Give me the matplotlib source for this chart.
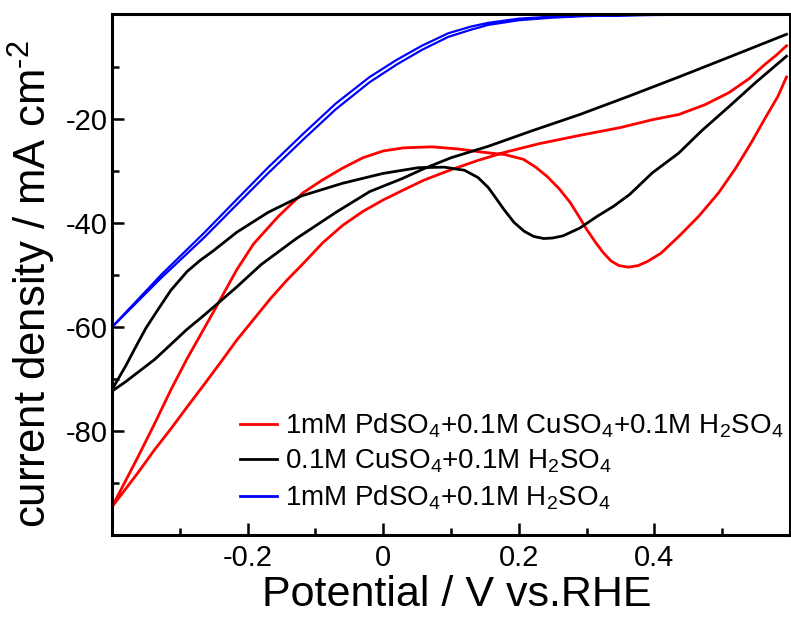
import matplotlib
matplotlib.use('Agg')
import matplotlib.pyplot as plt
from matplotlib.ticker import FixedLocator

plt.rcParams['font.family'] = ['Liberation Sans', 'DejaVu Sans']
plt.rcParams['mathtext.fontset'] = 'custom'
plt.rcParams['mathtext.rm'] = 'Liberation Sans'
plt.rcParams['mathtext.it'] = 'Liberation Sans:italic'
plt.rcParams['mathtext.bf'] = 'Liberation Sans:bold'

# 1mM PdSO4 + 0.1M CuSO4 + 0.1M H2SO4 (red), two sweep branches
red_x_down = [0.595, 0.582, 0.563, 0.543, 0.52, 0.495, 0.465, 0.436, 0.41, 0.39,
              0.376, 0.362, 0.348, 0.336, 0.324, 0.312, 0.30, 0.288, 0.276, 0.26,
              0.242, 0.225, 0.207, 0.18, 0.145, 0.11, 0.072, 0.03, 0.0, -0.03,
              -0.06, -0.09, -0.118, -0.155, -0.191, -0.216, -0.25, -0.289, -0.313,
              -0.337, -0.362, -0.38, -0.4]
red_y_down = [-12.0, -15.8, -20.0, -24.6, -29.5, -34.2, -38.8, -42.6, -45.8, -47.4,
              -48.2, -48.5, -48.2, -47.3, -45.6, -43.5, -41.2, -38.6, -36.1, -33.5,
              -31.1, -29.3, -27.8, -26.9, -26.4, -25.8, -25.4, -25.6, -26.2, -27.5,
              -29.5, -31.8, -34.2, -38.8, -44.0, -49.0, -57.0, -66.0, -72.0,
              -78.5, -85.0, -89.5, -94.5]
red_x_up = [-0.4, -0.362, -0.337, -0.313, -0.289, -0.264, -0.24, -0.216, -0.191, -0.166,
            -0.142, -0.118, -0.089, -0.06, -0.03, 0.0, 0.028, 0.06, 0.10, 0.14,
            0.178, 0.23, 0.29, 0.35, 0.397, 0.436, 0.475, 0.51, 0.54, 0.563, 0.58, 0.595]
red_y_up = [-94.5, -88.0, -83.5, -79.5, -75.3, -71.0, -66.8, -62.5, -58.5, -54.5,
            -51.0, -47.8, -43.8, -40.5, -37.8, -35.6, -33.8, -31.8, -29.8, -28.0,
            -26.5, -24.8, -23.2, -21.7, -20.2, -19.2, -17.3, -15.0, -12.3, -9.6, -7.8, -6.0]

# 0.1M CuSO4 + 0.1M H2SO4 (black)
blk_x_down = [0.595, 0.55, 0.51, 0.47, 0.436, 0.397, 0.364, 0.34, 0.315, 0.29,
              0.265, 0.25, 0.237, 0.222, 0.208, 0.193, 0.178, 0.165, 0.155, 0.14,
              0.12, 0.09, 0.052, 0.0, -0.06, -0.12, -0.17, -0.216, -0.25, -0.27,
              -0.289, -0.313, -0.333, -0.35, -0.365, -0.38, -0.4]
blk_y_down = [-8.0, -13.0, -17.7, -22.3, -26.6, -30.4, -34.5, -36.8, -38.8, -41.0,
              -42.5, -42.9, -43.0, -42.6, -41.6, -39.9, -37.4, -35.0, -33.2, -31.3,
              -29.9, -29.3, -29.4, -30.5, -32.4, -34.8, -38.0, -41.8, -45.3, -47.2,
              -49.3, -52.9, -56.8, -60.2, -63.8, -67.5, -72.0]
blk_x_up = [-0.4, -0.38, -0.36, -0.337, -0.313, -0.29, -0.264, -0.24, -0.216, -0.18,
            -0.128, -0.07, -0.02, 0.028, 0.06, 0.10, 0.155, 0.22, 0.29, 0.36,
            0.436, 0.51, 0.595]
blk_y_up = [-72.3, -70.5, -68.5, -66.2, -63.3, -60.5, -57.7, -55.0, -52.3, -48.0,
            -43.0, -38.0, -34.0, -31.5, -29.6, -27.5, -25.3, -22.3, -19.2, -15.8,
            -12.0, -8.2, -3.8]

# 1mM PdSO4 + 0.1M H2SO4 (blue), two nearly overlapping sweeps
blue_x = [-0.4, -0.327, -0.264, -0.216, -0.17, -0.118, -0.07, -0.02, 0.02, 0.057,
          0.096, 0.13, 0.155, 0.2, 0.25, 0.3, 0.4, 0.5, 0.595]
blue_y_down = [-60.0, -50.5, -42.8, -36.5, -30.5, -24.0, -18.2, -13.0, -9.6, -6.8,
               -4.3, -2.9, -2.0, -1.1, -0.6, -0.3, -0.1, 0.0, 0.0]
blue_y_up = [-60.0, -49.9, -41.9, -35.5, -29.4, -22.9, -17.1, -12.0, -8.7, -6.0,
             -3.6, -2.3, -1.6, -0.8, -0.4, -0.2, -0.05, 0.0, 0.0]

labels = [r'1mM PdSO$_4$+0.1M CuSO$_4$+0.1M H$_2$SO$_4$',
          r'0.1M CuSO$_4$+0.1M H$_2$SO$_4$',
          r'1mM PdSO$_4$+0.1M H$_2$SO$_4$']
colors = ['#ff0000', '#000000', '#0000ff']

x_ticks = [-0.2, 0, 0.2, 0.4]
x_ticklabels = ['-0.2', '0', '0.2', '0.4']
x_minor = [-0.3, -0.1, 0.1, 0.3, 0.5]
y_ticks = [-80, -60, -40, -20]
y_ticklabels = ['-80', '-60', '-40', '-20']
y_minor = [-90, -70, -50, -30, -10]

fig = plt.figure(figsize=(7.91, 6.17), dpi=100)
ax = fig.add_axes([0.1416, 0.1321, 0.857, 0.8444])

lw = 2.0
ax.plot(red_x_down + red_x_up, red_y_down + red_y_up, color=colors[0], lw=lw, label=labels[0])
ax.plot(blk_x_down + blk_x_up, blk_y_down + blk_y_up, color=colors[1], lw=lw, label=labels[1])
ax.plot(blue_x + blue_x[::-1], blue_y_down + blue_y_up[::-1], color=colors[2], lw=1.6, label=labels[2])

ax.set_xlim(-0.4, 0.6)
ax.set_ylim(-100, 0)

ax.set_xticks(x_ticks)
ax.set_xticklabels(x_ticklabels)
ax.xaxis.set_minor_locator(FixedLocator(x_minor))
ax.set_yticks(y_ticks)
ax.set_yticklabels(y_ticklabels)
ax.yaxis.set_minor_locator(FixedLocator(y_minor))

ax.tick_params(which='both', direction='in', width=1.8, top=False, right=False)
ax.tick_params(which='major', length=8.5)
ax.tick_params(which='minor', length=5)
ax.tick_params(axis='x', labelsize=21, pad=6)
ax.tick_params(axis='y', labelsize=21, pad=3)

for sp in ax.spines.values():
    sp.set_linewidth(2.2)

ax.set_xlabel('Potential / V vs.RHE', fontsize=31)
ax.set_ylabel(r'current density / mA cm$^{\text{-}2}$', fontsize=31.5)
ax.xaxis.set_label_coords(0.509, -0.076)
ax.yaxis.set_label_coords(-0.080, 0.483)

leg = ax.legend(loc='lower left', bbox_to_anchor=(0.189, 0.045), frameon=False,
                fontsize=20, handlelength=1.33, handletextpad=0.29,
                labelspacing=0.29, borderpad=0, borderaxespad=0)
for line in leg.get_lines():
    line.set_linewidth(2.0)

fig.savefig('out.png', dpi=100)
